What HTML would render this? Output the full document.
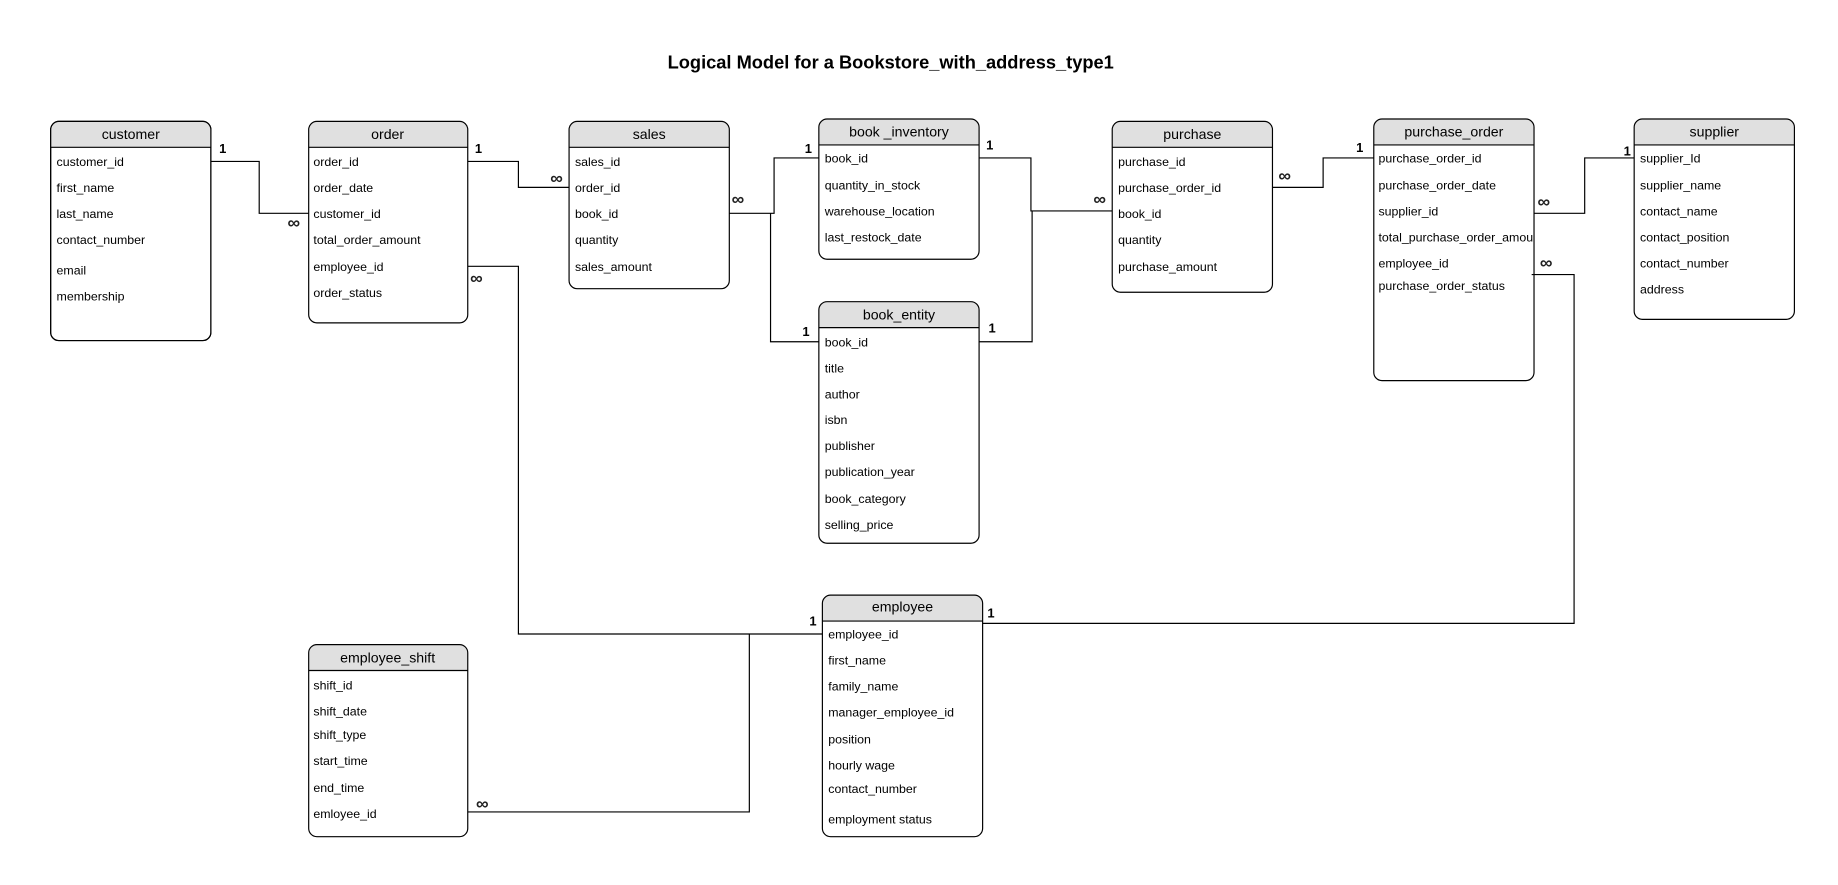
<!DOCTYPE html>
<html><head><meta charset="utf-8"><style>
html,body{margin:0;padding:0;background:#fff;}
svg{display:block;}
text{font-family:"Liberation Sans",Arial,sans-serif;fill:#000;}
.r{font-size:10.5px;}
.h{font-size:12px;text-anchor:middle;}
.c{font-size:11px;font-weight:bold;}
.inf{font-size:15px;font-weight:bold;fill:#222;}
.ln{fill:none;stroke:#000;stroke-width:1;}
.bx{fill:#fff;stroke:#000;stroke-width:1;}
.hd{fill:#e0e0e0;stroke:none;}
</style></head><body>
<svg width="1838" height="885" viewBox="0 0 1560 751" preserveAspectRatio="none" xmlns="http://www.w3.org/2000/svg">
<text x="756" y="58" style="font-size:15.5px;font-weight:bold;text-anchor:middle">Logical Model for a Bookstore_with_address_type1</text>

<!-- connectors -->
<polyline class="ln" points="179,137 220,137 220,181 262,181"/>
<polyline class="ln" points="397,137 440,137 440,159 483,159"/>
<polyline class="ln" points="397,226 440,226 440,538 698,538"/>
<polyline class="ln" points="397,689 636,689 636,538"/>
<polyline class="ln" points="619,181 657,181 657,134 695,134"/>
<polyline class="ln" points="654,181 654,290 695,290"/>
<polyline class="ln" points="831,134 875,134 875,179 944,179"/>
<polyline class="ln" points="831,290 876,290 876,179"/>
<polyline class="ln" points="1080,159 1123,159 1123,134 1166,134"/>
<polyline class="ln" points="1302,181 1345,181 1345,134 1387,134"/>
<polyline class="ln" points="1300,233 1336,233 1336,529 834,529"/>

<text class="c" x="186" y="130">1</text>
<text class="inf" x="244" y="194">∞</text>
<text class="c" x="403" y="130">1</text>
<text class="inf" x="467" y="156">∞</text>
<text class="inf" x="399" y="241">∞</text>
<text class="c" x="687" y="531">1</text>
<text class="inf" x="404" y="687">∞</text>
<text class="inf" x="621" y="174">∞</text>
<text class="c" x="683" y="130">1</text>
<text class="c" x="681" y="285">1</text>
<text class="c" x="837" y="127">1</text>
<text class="inf" x="928" y="174">∞</text>
<text class="c" x="839" y="282">1</text>
<text class="inf" x="1085" y="154">∞</text>
<text class="c" x="1151" y="129">1</text>
<text class="inf" x="1305" y="176">∞</text>
<text class="c" x="1378" y="132">1</text>
<text class="inf" x="1307" y="228">∞</text>
<text class="c" x="838" y="524">1</text>

<!-- customer -->
<g>
<rect class="bx" x="43" y="103" width="136" height="186" rx="7"/>
<path class="hd" d="M50,103.5 H172 A6.5,6.5 0 0 1 178.5,110 V125 H43.5 V110 A6.5,6.5 0 0 1 50,103.5 Z"/>
<rect class="bx" x="43" y="103" width="136" height="186" rx="7" style="fill:none"/>
<line class="ln" x1="43" y1="125" x2="179" y2="125"/>
<text class="h" x="111" y="118">customer</text>
<text class="r" x="48" y="141">customer_id</text>
<text class="r" x="48" y="163">first_name</text>
<text class="r" x="48" y="185">last_name</text>
<text class="r" x="48" y="207">contact_number</text>
<text class="r" x="48" y="233">email</text>
<text class="r" x="48" y="255">membership</text>
</g>

<!-- order -->
<g>
<path class="hd" d="M269,103.5 H390 A6.5,6.5 0 0 1 396.5,110 V125 H262.5 V110 A6.5,6.5 0 0 1 269,103.5 Z"/>
<rect class="bx" x="262" y="103" width="135" height="171" rx="7" style="fill:none"/>
<line class="ln" x1="262" y1="125" x2="397" y2="125"/>
<text class="h" x="329" y="118">order</text>
<text class="r" x="266" y="141">order_id</text>
<text class="r" x="266" y="163">order_date</text>
<text class="r" x="266" y="185">customer_id</text>
<text class="r" x="266" y="207">total_order_amount</text>
<text class="r" x="266" y="230">employee_id</text>
<text class="r" x="266" y="252">order_status</text>
</g>

<!-- sales -->
<g>
<path class="hd" d="M490,103.5 H612 A6.5,6.5 0 0 1 618.5,110 V125 H483.5 V110 A6.5,6.5 0 0 1 490,103.5 Z"/>
<rect class="bx" x="483" y="103" width="136" height="142" rx="7" style="fill:none"/>
<line class="ln" x1="483" y1="125" x2="619" y2="125"/>
<text class="h" x="551" y="118">sales</text>
<text class="r" x="488" y="141">sales_id</text>
<text class="r" x="488" y="163">order_id</text>
<text class="r" x="488" y="185">book_id</text>
<text class="r" x="488" y="207">quantity</text>
<text class="r" x="488" y="230">sales_amount</text>
</g>

<!-- book_inventory -->
<g>
<path class="hd" d="M702,101.5 H824 A6.5,6.5 0 0 1 830.5,108 V123 H695.5 V108 A6.5,6.5 0 0 1 702,101.5 Z"/>
<rect class="bx" x="695" y="101" width="136" height="119" rx="7" style="fill:none"/>
<line class="ln" x1="695" y1="123" x2="831" y2="123"/>
<text class="h" x="763" y="116">book _inventory</text>
<text class="r" x="700" y="138">book_id</text>
<text class="r" x="700" y="161">quantity_in_stock</text>
<text class="r" x="700" y="183">warehouse_location</text>
<text class="r" x="700" y="205">last_restock_date</text>
</g>

<!-- book_entity -->
<g>
<path class="hd" d="M702,256.5 H824 A6.5,6.5 0 0 1 830.5,263 V278 H695.5 V263 A6.5,6.5 0 0 1 702,256.5 Z"/>
<rect class="bx" x="695" y="256" width="136" height="205" rx="7" style="fill:none"/>
<line class="ln" x1="695" y1="278" x2="831" y2="278"/>
<text class="h" x="763" y="271">book_entity</text>
<text class="r" x="700" y="294">book_id</text>
<text class="r" x="700" y="316">title</text>
<text class="r" x="700" y="338">author</text>
<text class="r" x="700" y="360">isbn</text>
<text class="r" x="700" y="382">publisher</text>
<text class="r" x="700" y="404">publication_year</text>
<text class="r" x="700" y="427">book_category</text>
<text class="r" x="700" y="449">selling_price</text>
</g>

<!-- purchase -->
<g>
<path class="hd" d="M951,103.5 H1073 A6.5,6.5 0 0 1 1079.5,110 V125 H944.5 V110 A6.5,6.5 0 0 1 951,103.5 Z"/>
<rect class="bx" x="944" y="103" width="136" height="145" rx="7" style="fill:none"/>
<line class="ln" x1="944" y1="125" x2="1080" y2="125"/>
<text class="h" x="1012" y="118">purchase</text>
<text class="r" x="949" y="141">purchase_id</text>
<text class="r" x="949" y="163">purchase_order_id</text>
<text class="r" x="949" y="185">book_id</text>
<text class="r" x="949" y="207">quantity</text>
<text class="r" x="949" y="230">purchase_amount</text>
</g>

<!-- purchase_order -->
<g>
<path class="hd" d="M1173,101.5 H1295 A6.5,6.5 0 0 1 1301.5,108 V123 H1166.5 V108 A6.5,6.5 0 0 1 1173,101.5 Z"/>
<rect class="bx" x="1166" y="101" width="136" height="222" rx="7" style="fill:none"/>
<line class="ln" x1="1166" y1="123" x2="1302" y2="123"/>
<text class="h" x="1234" y="116">purchase_order</text>
<text class="r" x="1170" y="138">purchase_order_id</text>
<text class="r" x="1170" y="161">purchase_order_date</text>
<text class="r" x="1170" y="183">supplier_id</text>
<text class="r" x="1170" y="205">total_purchase_order_amou</text>
<text class="r" x="1170" y="227">employee_id</text>
<text class="r" x="1170" y="246">purchase_order_status</text>
</g>

<!-- supplier -->
<g>
<path class="hd" d="M1394,101.5 H1516 A6.5,6.5 0 0 1 1522.5,108 V123 H1387.5 V108 A6.5,6.5 0 0 1 1394,101.5 Z"/>
<rect class="bx" x="1387" y="101" width="136" height="170" rx="7" style="fill:none"/>
<line class="ln" x1="1387" y1="123" x2="1523" y2="123"/>
<text class="h" x="1455" y="116">supplier</text>
<text class="r" x="1392" y="138">supplier_Id</text>
<text class="r" x="1392" y="161">supplier_name</text>
<text class="r" x="1392" y="183">contact_name</text>
<text class="r" x="1392" y="205">contact_position</text>
<text class="r" x="1392" y="227">contact_number</text>
<text class="r" x="1392" y="249">address</text>
</g>

<!-- employee -->
<g>
<path class="hd" d="M705,505.5 H827 A6.5,6.5 0 0 1 833.5,512 V527 H698.5 V512 A6.5,6.5 0 0 1 705,505.5 Z"/>
<rect class="bx" x="698" y="505" width="136" height="205" rx="7" style="fill:none"/>
<line class="ln" x1="698" y1="527" x2="834" y2="527"/>
<text class="h" x="766" y="519">employee</text>
<text class="r" x="703" y="542">employee_id</text>
<text class="r" x="703" y="564">first_name</text>
<text class="r" x="703" y="586">family_name</text>
<text class="r" x="703" y="608">manager_employee_id</text>
<text class="r" x="703" y="631">position</text>
<text class="r" x="703" y="653">hourly wage</text>
<text class="r" x="703" y="673">contact_number</text>
<text class="r" x="703" y="699">employment status</text>
</g>

<!-- employee_shift -->
<g>
<path class="hd" d="M269,547.5 H390 A6.5,6.5 0 0 1 396.5,554 V569 H262.5 V554 A6.5,6.5 0 0 1 269,547.5 Z"/>
<rect class="bx" x="262" y="547" width="135" height="163" rx="7" style="fill:none"/>
<line class="ln" x1="262" y1="569" x2="397" y2="569"/>
<text class="h" x="329" y="562">employee_shift</text>
<text class="r" x="266" y="585">shift_id</text>
<text class="r" x="266" y="607">shift_date</text>
<text class="r" x="266" y="627">shift_type</text>
<text class="r" x="266" y="649">start_time</text>
<text class="r" x="266" y="672">end_time</text>
<text class="r" x="266" y="694">emloyee_id</text>
</g>
</svg>
</body></html>
